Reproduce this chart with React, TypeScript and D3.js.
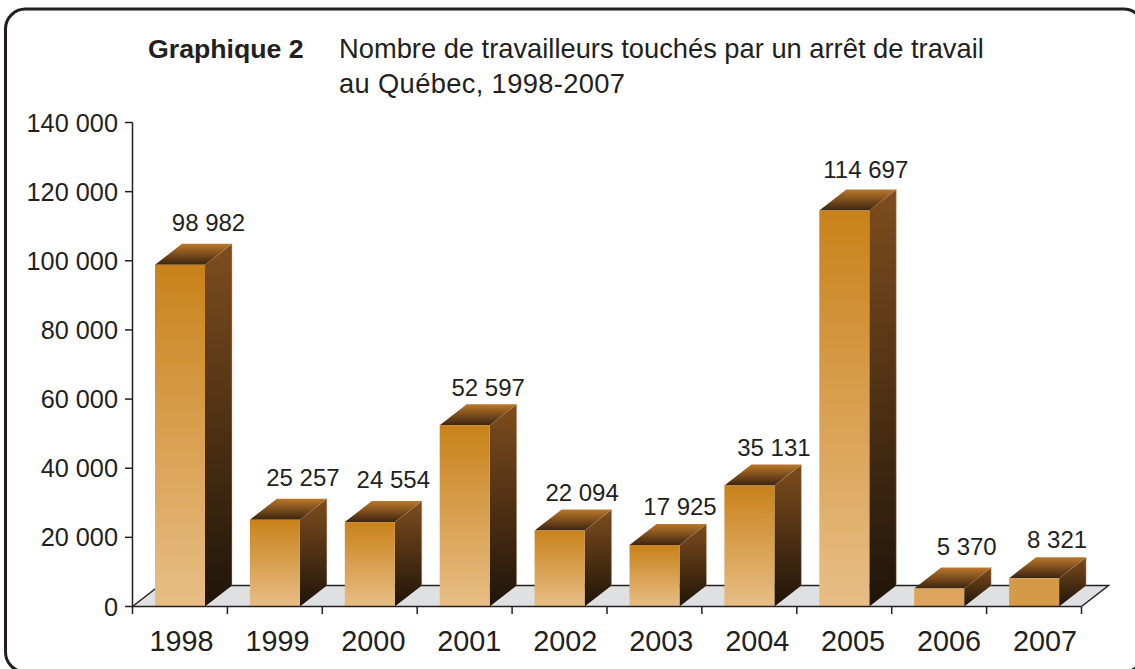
import React from "react";
import * as d3 from "d3";

const years = ["1998","1999","2000","2001","2002","2003","2004","2005","2006","2007"];
const values = [98982,25257,24554,52597,22094,17925,35131,114697,5370,8321];
const valueLabels = ["98 982","25 257","24 554","52 597","22 094","17 925","35 131","114 697","5 370","8 321"];
const yTicks = [0,20000,40000,60000,80000,100000,120000,140000];
const yTickLabels = ["0","20 000","40 000","60 000","80 000","100 000","120 000","140 000"];
const frontBottoms = ["#E8BE86","#E8BE86","#E8BE86","#E8BE86","#E8BE86","#E8BE86","#E8BE86","#E8BE86","#DCA45C","#D49A48"];
const frontTops = ["#C9821A","#C9821A","#C9821A","#C9821A","#C9821A","#C9821A","#C9821A","#C9821A","#DCA45C","#D49A48"];
const labelShiftX = [1,0.5,-4,-4,-5,-2,-3,-6,0,-4.5];
const labelShiftY = [1,1,1,6,5,5,5,3,2,5];

const FONT = "'Liberation Sans', Arial, sans-serif";
const TEXT = "#231F20";
const DX = 27, DY = 21;

export default function App() {
  const x = d3.scaleBand<string>().domain(years).range([132.5, 1081.5]).paddingInner(0).paddingOuter(0);
  const yearX = d3.scalePoint<string>().domain(years).range([181.5, 1045]);
  const y = d3.scaleLinear().domain([0, 140000]).range([606.5, 122.5]);
  const barW = 50;
  const inset = 22.5;
  const floorPath = d3.path();
  floorPath.moveTo(132.5, 606.5);
  floorPath.lineTo(132.5 + DX, 606.5 - DY);
  floorPath.lineTo(1081.5 + DX, 606.5 - DY);
  floorPath.lineTo(1081.5, 606.5);
  floorPath.closePath();
  return (
    <svg width={1135} height={669} style={{ position: "fixed", left: 0, top: 0, display: "block", background: "#fff" }} fontFamily={FONT}>
      <defs>
        <linearGradient id="side" x1="0" y1="0" x2="0" y2="1">
          <stop offset="0" stopColor="#7E4D1E" />
          <stop offset="1" stopColor="#1F1409" />
        </linearGradient>
        <linearGradient id="topFace" x1="0" y1="0" x2="0" y2="1">
          <stop offset="0" stopColor="#BC772A" />
          <stop offset="1" stopColor="#3C2410" />
        </linearGradient>
        {years.map((yr, i) => (
          <linearGradient key={yr} id={`front${yr}`} x1="0" y1="0" x2="0" y2="1">
            <stop offset="0" stopColor={frontTops[i]} />
            <stop offset="1" stopColor={frontBottoms[i]} />
          </linearGradient>
        ))}
      </defs>
      <rect x={5.5} y={9} width={1138} height={663} rx={20} fill="#fff" stroke="#231F20" strokeWidth={3} />
      <text x={148} y={58} fontSize={26.7} fontWeight="bold" fill={TEXT}>Graphique 2</text>
      <text x={339} y={58} fontSize={27.3} fill={TEXT}>Nombre de travailleurs touchés par un arrêt de travail</text>
      <text x={339} y={93} fontSize={27.3} fill={TEXT} textLength={286} lengthAdjust="spacing">au Québec, 1998-2007</text>

      <path d={floorPath.toString()} fill="#DFE0E2" stroke="none" />
      <path d={`M132.5,606.5L${132.5 + DX},${606.5 - DY}`} stroke={TEXT} strokeWidth={1.5} fill="none" />
      <path d={`M${132.5 + DX},${606.5 - DY}H${1081.5 + DX}L1081.5,606.5`} stroke={TEXT} strokeWidth={1.5} fill="none" />

      {years.map((yr, i) => {
        const x0 = x(yr)! + inset;
        const x1 = x0 + barW;
        const yt = y(values[i]) + 0.5;
        const yb = y(0);
        return (
          <g key={yr}>
            <path d={`M${x1},${yb}L${x1 + DX},${yb - DY}V${yt - DY}L${x1},${yt}Z`} fill="url(#side)" />
            <path d={`M${x1},${yt}L${x1 + DX},${yt - DY}V${yb - DY}`} fill="none" stroke="#D8B48C" strokeOpacity={0.55} strokeWidth={0.8} />
            <path d={`M${x0},${yt}L${x0 + DX},${yt - DY}H${x1 + DX}L${x1},${yt}Z`} fill="url(#topFace)" />
            <rect x={x0} y={yt} width={barW} height={yb - yt} fill={`url(#front${yr})`} />
            <text x={x0 + barW / 2 + 27.5 + labelShiftX[i]} y={yt - 35 + labelShiftY[i]} textAnchor="middle" fontSize={24} fill={TEXT}>{valueLabels[i]}</text>
          </g>
        );
      })}

      <path d="M132.5,122.5V606.5H1081.5" stroke={TEXT} strokeWidth={1.5} fill="none" />
      {yTicks.map((t, i) => (
        <g key={t}>
          <line x1={125} x2={132.5} y1={y(t)} y2={y(t)} stroke={TEXT} strokeWidth={1.5} />
          <text x={118} y={y(t) + 9} textAnchor="end" fontSize={25.3} fill={TEXT}>{yTickLabels[i]}</text>
        </g>
      ))}
      {[...years.map((yr) => x(yr)!), 1081.5].map((p) => (
        <line key={p} x1={p} x2={p} y1={606.5} y2={614} stroke={TEXT} strokeWidth={1.5} />
      ))}
      {years.map((yr) => (
        <text key={yr} x={yearX(yr)!} y={651} textAnchor="middle" fontSize={28.8} fill={TEXT}>{yr}</text>
      ))}
    </svg>
  );
}
